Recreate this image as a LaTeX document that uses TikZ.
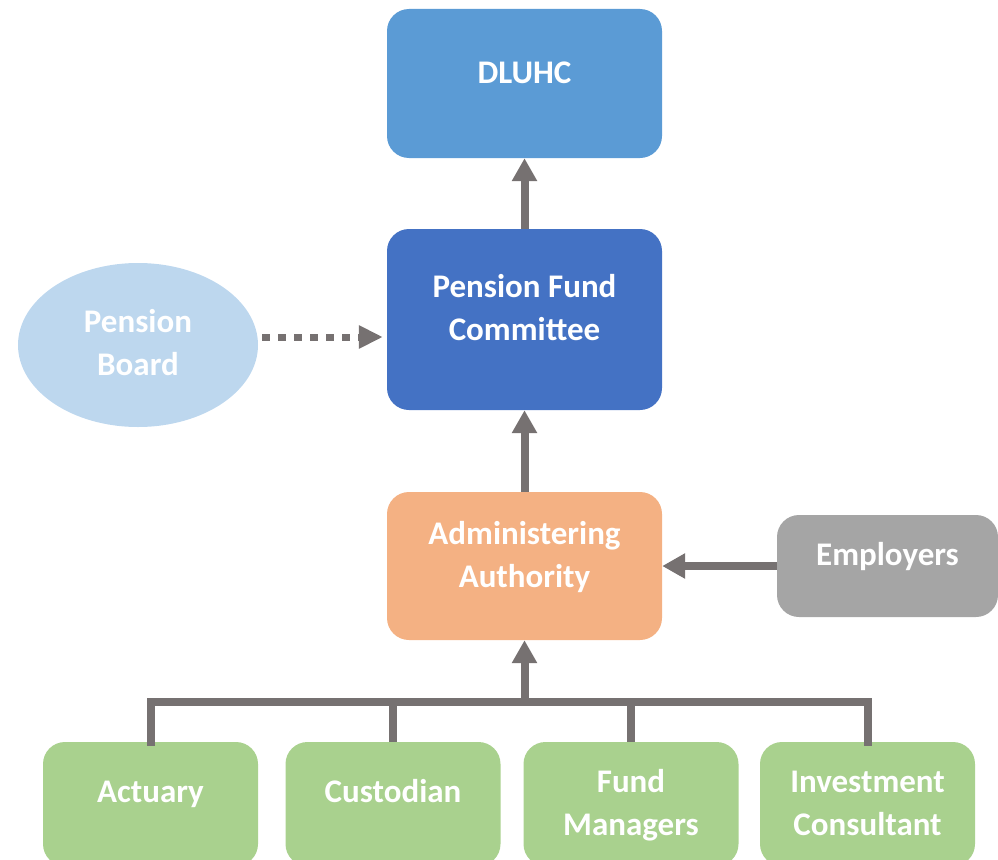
\documentclass[tikz,border=0pt]{standalone}
\usepackage{fontspec}
\setmainfont{Carlito}
\usetikzlibrary{arrows.meta,shapes.geometric}
\definecolor{cdl}{HTML}{5B9BD5}
\definecolor{cpf}{HTML}{4472C4}
\definecolor{cpb}{HTML}{BDD7EE}
\definecolor{cad}{HTML}{F4B183}
\definecolor{cem}{HTML}{A5A5A5}
\definecolor{cgr}{HTML}{A9D18E}
\definecolor{carr}{HTML}{767171}
\begin{document}
\begin{tikzpicture}[x=1pt,y=-1pt,
  box/.style={rectangle, rounded corners=22pt, inner sep=0pt, draw=none},
  lbl/.style={text=white, font=\fontsize{33}{43}\selectfont\bfseries, align=center, inner sep=0pt},
  conn/.style={draw=carr, line width=8pt},
  tip/.style={-{Triangle[width=24pt,length=23pt]}},
  dtip/.style={-{Triangle[width=22pt,length=24pt]}}]
\useasboundingbox (0,0) rectangle (998,859);
\clip (0,0) rectangle (998,859);
% boxes
\node[box, fill=cdl, minimum width=275pt, minimum height=149pt] (dl) at (524.5,83.5) {};
\node[lbl] (dlt) at ([yshift=8.5pt]dl.center) {\strut DLUHC};
\node[box, fill=cpf, minimum width=275pt, minimum height=181pt] (pf) at (524.5,319.5) {};
\node[lbl] (pft) at ([yshift=9pt]pf.center) {\strut Pension Fund\\\strut Committee};
\node[ellipse, fill=cpb, minimum width=240pt, minimum height=164pt, inner sep=0pt] (pb) at (138,345) {};
\node[lbl] (pbt) at (pb.center) {\strut Pension\\\strut Board};
\node[box, fill=cad, minimum width=275pt, minimum height=148pt] (ad) at (524.5,566) {};
\node[lbl] (adt) at ([yshift=8.5pt]ad.center) {\strut Administering\\\strut Authority};
\node[box, fill=cem, minimum width=221pt, minimum height=102pt] (em) at (887.5,566) {};
\node[lbl] (emt) at ([yshift=9pt]em.center) {\strut Employers};
\node[box, fill=cgr, minimum width=215pt, minimum height=124pt] (ac) at (150.5,804) {};
\node[lbl] (act) at ([yshift=10pt]ac.center) {\strut Actuary};
\node[box, fill=cgr, minimum width=215pt, minimum height=124pt] (cu) at (393,804) {};
\node[lbl] (cut) at ([yshift=10pt]cu.center) {\strut Custodian};
\node[box, fill=cgr, minimum width=215pt, minimum height=124pt] (fm) at (631,804) {};
\node[lbl] (fmt) at ([yshift=-1pt]fm.center) {\strut Fund\\\strut Managers};
\node[box, fill=cgr, minimum width=215pt, minimum height=124pt] (ic) at (867.5,804) {};
\node[lbl] (ict) at ([yshift=-1pt]ic.center) {\strut Investment\\\strut Consultant};
% connectors
\draw[conn, tip] (pf.north) -- (dl.south);
\draw[conn, tip] (ad.north) -- (pf.south);
\draw[conn, tip] (em.west) -- (ad.east);
\draw[conn, line width=7pt, dash pattern=on 8pt off 8pt, dtip] ([shift={(4,-8)}]pb.east) -- ([shift={(-4,-8)}]pb.east -| pf.west);
\coordinate (bus) at (524.5,702);
\draw[conn, line join=miter, line cap=rect] (ac.north) |- (bus);
\draw[conn, line join=miter, line cap=rect] (ic.north) |- (bus);
\draw[conn] (cu.north) -- (cu.north |- bus);
\draw[conn] (fm.north) -- (fm.north |- bus);
\draw[conn, tip] ([yshift=4pt]bus) -- (ad.south);
\end{tikzpicture}
\end{document}
